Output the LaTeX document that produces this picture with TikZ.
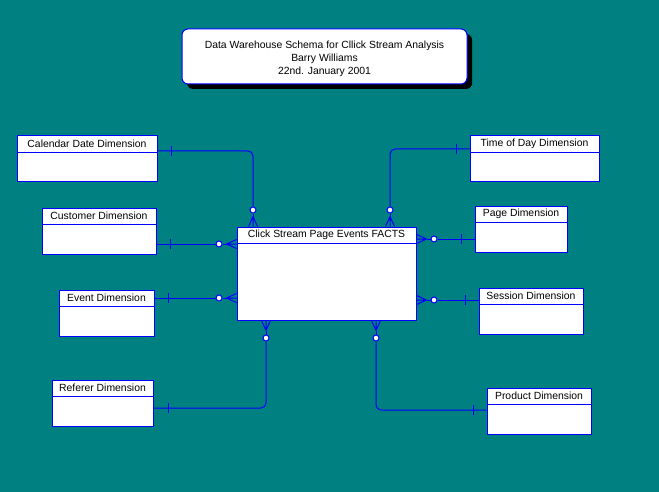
\documentclass[tikz,border=0pt]{standalone}
\usepackage{fontspec}
\setmainfont{Liberation Sans}
\usetikzlibrary{positioning,shadows}
\definecolor{erbg}{RGB}{0,128,128}
\definecolor{erblue}{RGB}{0,0,255}
\begin{document}
\begin{tikzpicture}[
    x=1pt, y=1pt,
    rel/.style={
        draw=erblue,
        line width=1pt
    },
    entity/.style={
        draw=erblue,
        fill=white,
        line width=1pt,
        inner sep=0pt,
        minimum height=46
    },
    header/.style={
        anchor=north,
        inner sep=0pt,
        minimum height=17,
        font=\fontsize{10.4}{12}\selectfont
    },
    titlebox/.style={
        draw=erblue,
        fill=white,
        line width=1pt,
        rounded corners=6pt,
        minimum width=285,
        minimum height=55,
        inner sep=0pt,
        drop shadow={shadow xshift=5pt, shadow yshift=-5pt, fill=black, opacity=1}
    },
    titletext/.style={
        align=center,
        inner sep=0pt,
        font=\fontsize{10.4}{13}\selectfont
    },
    zero/.style={
        circle,
        draw=erblue,
        fill=white,
        line width=1pt,
        inner sep=0pt,
        minimum size=6
    },
    crow/.pic={
        \draw[rel] (0,0) -- (10,0) (0,0) -- (10,4.5) (0,0) -- (10,-4.5);
    }
]

% Background
\fill[erbg] (0,0) rectangle (659,-492);
\useasboundingbox (0,0) rectangle (659,-492);

% Title
\node[titlebox] (title) at (324.5,-56.5) {};
\node[titletext] (titlet) at ([yshift=-2.5]title.center)
{Data Warehouse Schema for Cllick Stream Analysis\\
Barry Williams\\
22nd. January 2001};

% Fact table
\node[entity, minimum width=179, minimum height=93] (fact) at (326.5,-273.5) {};
\node[header] (facth) at ([yshift=0.5]fact.north) {Click Stream Page Events FACTS};
\draw[rel] (facth.south -| fact.west) -- (facth.south -| fact.east);

% Dimensions on the left
\node[entity, minimum width=140] (cal) at (87,-159) {};
\node[header] (calh) at ([yshift=0.5]cal.north) {Calendar Date Dimension};
\draw[rel] (calh.south -| cal.west) -- (calh.south -| cal.east);

\node[entity, minimum width=114] (cust) at (99,-231) {};
\node[header] (custh) at ([yshift=0.5]cust.north) {Customer Dimension};
\draw[rel] (custh.south -| cust.west) -- (custh.south -| cust.east);

\node[entity, minimum width=95] (event) at (106.5,-313) {};
\node[header] (eventh) at ([yshift=0.5]event.north) {Event Dimension};
\draw[rel] (eventh.south -| event.west) -- (eventh.south -| event.east);

\node[entity, minimum width=101] (ref) at (102.5,-403) {};
\node[header] (refh) at ([yshift=0.5]ref.north) {Referer Dimension};
\draw[rel] (refh.south -| ref.west) -- (refh.south -| ref.east);

% Dimensions on the right
\node[entity, minimum width=129] (tod) at (534.5,-159) {};
\node[header] (todh) at ([yshift=0.5]tod.north) {Time of Day Dimension};
\draw[rel] (todh.south -| tod.west) -- (todh.south -| tod.east);

\node[entity, minimum width=92] (page) at (521,-229) {};
\node[header] (pageh) at ([yshift=0.5]page.north) {Page Dimension};
\draw[rel] (pageh.south -| page.west) -- (pageh.south -| page.east);

\node[entity, minimum width=104] (sess) at (531,-311) {};
\node[header] (sessh) at ([yshift=0.5]sess.north) {Session Dimension};
\draw[rel] (sessh.south -| sess.west) -- (sessh.south -| sess.east);

\node[entity, minimum width=104] (prod) at (539,-411) {};
\node[header] (prodh) at ([yshift=0.5]prod.north) {Product Dimension};
\draw[rel] (prodh.south -| prod.west) -- (prodh.south -| prod.east);

% Optional ends
\node[zero] (calo) at (253,-210) {};
\node[zero] (custo) at (219,-244) {};
\node[zero] (evento) at (219,-298) {};
\node[zero] (refo) at (266,-338) {};
\node[zero] (todo) at (390,-210) {};
\node[zero] (pageo) at (434,-239) {};
\node[zero] (sesso) at (434,-300) {};
\node[zero] (prodo) at (376,-338) {};

% Relationships
\draw[rel, rounded corners=5pt] ([yshift=8]cal.east) coordinate (cala) -| (calo);
\draw[rel] ([xshift=14,yshift=5]cala) -- ([xshift=14,yshift=-5]cala);
\draw[rel] (calo) -- ([yshift=10]calo |- fact.north) pic[rotate=-90] {crow};

\draw[rel] (cust.east |- custo) coordinate (custa) -- (custo);
\draw[rel] ([xshift=14,yshift=5]custa) -- ([xshift=14,yshift=-5]custa);
\draw[rel] (custo) -- ([xshift=-10]custo -| fact.west) pic {crow};

\draw[rel] (event.east |- evento) coordinate (eventa) -- (evento);
\draw[rel] ([xshift=14,yshift=5]eventa) -- ([xshift=14,yshift=-5]eventa);
\draw[rel] (evento) -- ([xshift=-10]evento -| fact.west) pic {crow};

\draw[rel, rounded corners=5pt] ([yshift=-5]ref.east) coordinate (refa) -| (refo);
\draw[rel] ([xshift=15,yshift=5]refa) -- ([xshift=15,yshift=-5]refa);
\draw[rel] (refo) -- ([yshift=-10]refo |- fact.south) pic[rotate=90] {crow};

\draw[rel, rounded corners=5pt] ([yshift=10]tod.west) coordinate (toda) -| (todo);
\draw[rel] ([xshift=-13,yshift=5]toda) -- ([xshift=-13,yshift=-5]toda);
\draw[rel] (todo) -- ([yshift=10]todo |- fact.north) pic[rotate=-90] {crow};

\draw[rel] (page.west |- pageo) coordinate (pagea) -- (pageo);
\draw[rel] ([xshift=-13,yshift=5]pagea) -- ([xshift=-13,yshift=-5]pagea);
\draw[rel] (pageo) -- ([xshift=10]pageo -| fact.east) pic[rotate=180] {crow};

\draw[rel] (sess.west |- sesso) coordinate (sessa) -- (sesso);
\draw[rel] ([xshift=-13,yshift=5]sessa) -- ([xshift=-13,yshift=-5]sessa);
\draw[rel] (sesso) -- ([xshift=10]sesso -| fact.east) pic[rotate=180] {crow};

\draw[rel, rounded corners=5pt] ([yshift=1]prod.west) coordinate (proda) -| (prodo);
\draw[rel] ([xshift=-13,yshift=5]proda) -- ([xshift=-13,yshift=-5]proda);
\draw[rel] (prodo) -- ([yshift=-10]prodo |- fact.south) pic[rotate=90] {crow};

\end{tikzpicture}
\end{document}
